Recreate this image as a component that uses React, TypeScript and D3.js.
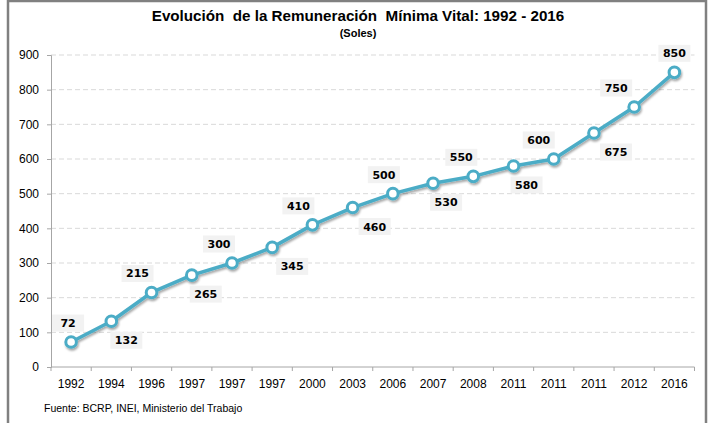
import React, { useRef, useEffect } from "react";
import * as d3 from "d3";

// Remuneración Mínima Vital (soles)
const years = ["1992", "1994", "1996", "1997", "1997", "1997", "2000", "2003", "2006", "2007", "2008", "2011", "2011", "2011", "2012", "2016"];
const rmv = [72, 132, 215, 265, 300, 345, 410, 460, 500, 530, 550, 580, 600, 675, 750, 850];
const yTicks = [0, 100, 200, 300, 400, 500, 600, 700, 800, 900];

// label placement (layout only)
const labelSide = ["up", "down", "up", "down", "up", "down", "up", "down", "up", "down", "up", "down", "up", "down", "up", "up"];
const labelDx = [-3, 15, -14, 14, -13, 20, -14, 22, -9, 13, -12, 13, -15, 22, -18, 0];

const title = "Evolución  de la Remuneración  Mínima Vital: 1992 - 2016";
const subtitle = "(Soles)";
const source = "Fuente: BCRP, INEI, Ministerio del Trabajo";

const W = 710;
const H = 423;
const LINE = "#4BACC6";

export default function App() {
  const svgRef = useRef<SVGSVGElement>(null);

  useEffect(() => {
    const svg = d3.select(svgRef.current);
    svg.selectAll("*").remove();

    const x = d3.scaleBand<number>()
      .domain(d3.range(years.length))
      .range([51, 694.5])
      .padding(0);
    const y = d3.scaleLinear().domain([0, 900]).range([367, 55]);

    const defs = svg.append("defs");
    const f = defs.append("filter").attr("id", "shadow")
      .attr("x", "-10%").attr("y", "-10%").attr("width", "120%").attr("height", "130%");
    f.append("feDropShadow")
      .attr("dx", 1).attr("dy", 2).attr("stdDeviation", 1.3)
      .attr("flood-color", "#000").attr("flood-opacity", 0.35);

    svg.append("rect").attr("width", W).attr("height", H).attr("fill", "#fff");

    // frame
    svg.append("path")
      .attr("d", `M8,${H} V1 H706 V${H}`)
      .attr("fill", "none").attr("stroke", "#808080").attr("stroke-width", 2.5);

    // title
    svg.append("text")
      .attr("x", 358).attr("y", 21)
      .attr("text-anchor", "middle")
      .attr("font-family", "'Liberation Sans', Arial, sans-serif")
      .attr("font-weight", "bold").attr("font-size", 15.2)
      .attr("fill", "#000")
      .attr("xml:space", "preserve")
      .style("white-space", "pre")
      .text(title);
    svg.append("text")
      .attr("x", 358).attr("y", 37)
      .attr("text-anchor", "middle")
      .attr("font-family", "'Liberation Sans', Arial, sans-serif")
      .attr("font-weight", "bold").attr("font-size", 11)
      .attr("fill", "#000")
      .text(subtitle);

    // gridlines
    svg.append("g").selectAll("line")
      .data(yTicks.filter(d => d > 0))
      .join("line")
      .attr("x1", 51).attr("x2", 694.5)
      .attr("y1", d => y(d)).attr("y2", d => y(d))
      .attr("stroke", "#D9D9D9").attr("stroke-width", 1)
      .attr("stroke-dasharray", "5,3");

    // y axis
    const gy = svg.append("g")
      .attr("transform", "translate(51,0)")
      .call(d3.axisLeft(y).tickValues(yTicks).tickSize(4).tickPadding(8));
    gy.select(".domain").attr("stroke", "#A6A6A6");
    gy.selectAll(".tick line").attr("stroke", "#A6A6A6");
    gy.selectAll(".tick text")
      .attr("font-family", "'Liberation Sans', Arial, sans-serif")
      .attr("font-size", 12).attr("fill", "#000");

    // x axis
    const gx = svg.append("g").attr("transform", "translate(0,367)");
    gx.append("line")
      .attr("x1", 51).attr("x2", 694.5)
      .attr("stroke", "#A6A6A6");
    gx.selectAll("line.tk")
      .data(d3.range(years.length + 1))
      .join("line")
      .attr("class", "tk")
      .attr("x1", i => 51 + i * x.bandwidth())
      .attr("x2", i => 51 + i * x.bandwidth())
      .attr("y1", 0).attr("y2", 4)
      .attr("stroke", "#A6A6A6");
    gx.selectAll("text")
      .data(years)
      .join("text")
      .attr("x", (_, i) => x(i)! + x.bandwidth() / 2)
      .attr("y", 21)
      .attr("text-anchor", "middle")
      .attr("font-family", "'Liberation Sans', Arial, sans-serif")
      .attr("font-size", 12).attr("fill", "#000")
      .text(d => d);

    // line
    const px = (i: number) => x(i)! + x.bandwidth() / 2;
    const line = d3.line<number>()
      .x((_, i) => px(i))
      .y(d => y(d));
    const gl = svg.append("g").attr("filter", "url(#shadow)");
    gl.append("path")
      .datum(rmv)
      .attr("d", line)
      .attr("fill", "none")
      .attr("stroke", LINE)
      .attr("stroke-width", 3.5)
      .attr("stroke-linejoin", "round");
    gl.selectAll("circle")
      .data(rmv)
      .join("circle")
      .attr("cx", (_, i) => px(i))
      .attr("cy", d => y(d))
      .attr("r", 5.3)
      .attr("fill", "#fff")
      .attr("stroke", LINE)
      .attr("stroke-width", 3);

    // data labels
    const gLab = svg.append("g");
    rmv.forEach((v, i) => {
      const cx = px(i) + labelDx[i];
      const cy = y(v) + (labelSide[i] === "up" ? -19 : 19);
      const g = gLab.append("g").attr("transform", `translate(${cx},${cy})`);
      g.append("rect")
        .attr("x", -16).attr("y", -8.5)
        .attr("width", 32).attr("height", 17)
        .attr("fill", "#F2F2F2");
      g.append("text")
        .attr("text-anchor", "middle")
        .attr("dy", "0.36em")
        .attr("font-family", "'DejaVu Sans', Verdana, sans-serif")
        .attr("font-weight", "bold").attr("font-size", 11)
        .attr("fill", "#000")
        .text(String(v));
    });

    // source
    svg.append("text")
      .attr("x", 44).attr("y", 412)
      .attr("font-family", "'Liberation Sans', Arial, sans-serif")
      .attr("font-size", 10.5).attr("fill", "#000")
      .text(source);
  }, []);

  return (
    <svg
      ref={svgRef}
      width={W}
      height={H}
      style={{ position: "absolute", left: 0, top: 0, display: "block" }}
    />
  );
}
